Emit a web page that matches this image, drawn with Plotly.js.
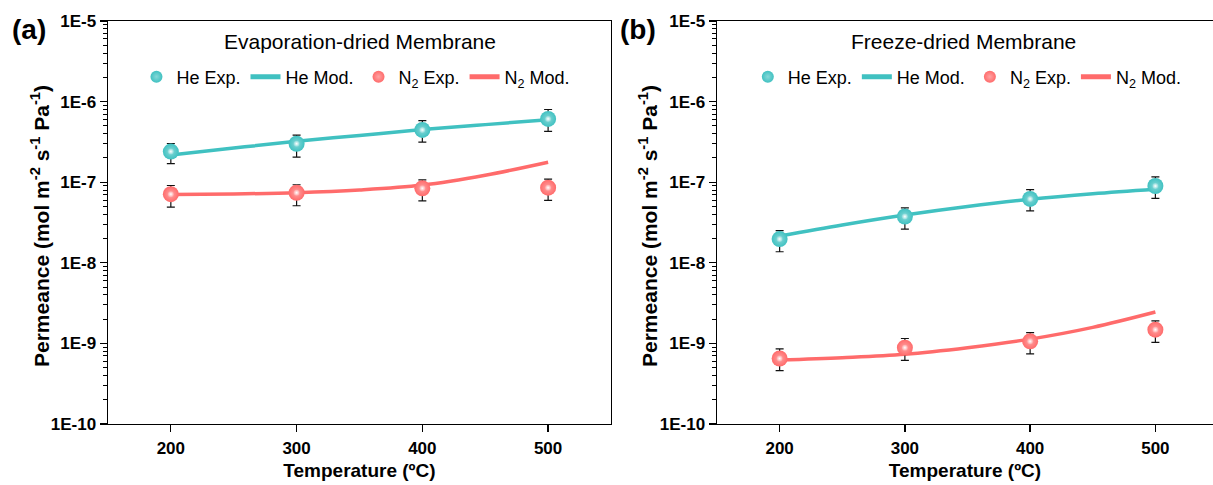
<!DOCTYPE html>
<html>
<head>
<meta charset="utf-8">
<script src="https://cdn.plot.ly/plotly-3.0.1.min.js"></script>
<style>html,body{margin:0;padding:0;background:#fff;}#chart{width:1213px;height:485px;}</style>
</head>
<body>
<div id="chart"></div>
<script>
// ---- data ----
const tempExp = [200, 300, 400, 500];
const tempMod = [200, 250, 300, 350, 400, 450, 500];

// (a) Evaporation-dried membrane
const heExpA      = [2.4e-7, 3.0e-7, 4.45e-7, 6.1e-7];
const heExpAPlus  = [0.62e-7, 0.84e-7, 1.35e-7, 1.88e-7];
const heExpAMinus = [0.7e-7, 0.95e-7, 1.31e-7, 1.82e-7];
const heModA      = [2.17e-7, 2.65e-7, 3.22e-7, 3.8e-7, 4.5e-7, 5.18e-7, 5.95e-7];
const n2ExpA      = [7.1e-8, 7.4e-8, 8.4e-8, 8.55e-8];
const n2ExpAPlus  = [2.0e-8, 1.9e-8, 2.3e-8, 2.35e-8];
const n2ExpAMinus = [2.2e-8, 2.3e-8, 2.55e-8, 2.6e-8];
const n2ModA      = [7.05e-8, 7.15e-8, 7.4e-8, 8.0e-8, 9.2e-8, 1.22e-7, 1.77e-7];

// (b) Freeze-dried membrane
const heExpB      = [1.97e-8, 3.75e-8, 6.2e-8, 8.97e-8];
const heExpBPlus  = [0.53e-8, 1.05e-8, 1.87e-8, 2.7e-8];
const heExpBMinus = [0.6e-8, 1.13e-8, 1.79e-8, 2.67e-8];
const heModB      = [2.15e-8, 2.95e-8, 3.92e-8, 5.0e-8, 6.14e-8, 7.2e-8, 8.2e-8];
const n2ExpB      = [6.5e-10, 8.85e-10, 1.06e-9, 1.48e-9];
const n2ExpBPlus  = [2.05e-10, 2.65e-10, 3.0e-10, 4.2e-10];
const n2ExpBMinus = [1.9e-10, 2.69e-10, 3.19e-10, 4.5e-10];
const n2ModB      = [6.22e-10, 6.65e-10, 7.33e-10, 8.85e-10, 1.13e-9, 1.58e-9, 2.45e-9];

const xTicks = [200, 300, 400, 500];
const yTickVals = [1e-10, 1e-9, 1e-8, 1e-7, 1e-6, 1e-5];
const yTickText = ['1E-10', '1E-9', '1E-8', '1E-7', '1E-6', '1E-5'];

const legendNames = ['He Exp.', 'He Mod.', 'N<sub>2</sub> Exp.', 'N<sub>2</sub> Mod.'];
const panelTitles = ['Evaporation-dried Membrane', 'Freeze-dried Membrane'];
const panelLabels = ['(a)', '(b)'];

// ---- styling ----
const TEAL = '#40C1C1';
const TEAL_LIGHT = '#86D8D8';
const RED = '#FF6B6B';
const RED_LIGHT = '#FFA3A3';
const FONT = 'Liberation Sans, Arial, Helvetica, sans-serif';

const minorVals = [];
for (let e = -10; e < -5; e++) for (let m = 2; m <= 9; m++) minorVals.push(m * Math.pow(10, e));

function modTrace(y, color, name, xa, ya, leg) {
  return {x: tempMod, y: y, type: 'scatter', mode: 'lines', name: name,
    line: {color: color, width: 3.5, shape: 'spline'}, xaxis: xa, yaxis: ya, legend: leg};
}
function expTrace(y, plus, minus, color, light, name, xa, ya, leg) {
  return {x: tempExp, y: y, type: 'scatter', mode: 'markers', name: name,
    marker: {color: color, size: 16, line: {width: 0}, gradient: {type: 'radial', color: light}},
    error_y: {type: 'data', symmetric: false, array: plus, arrayminus: minus,
      color: '#111', thickness: 1.2, width: 4},
    xaxis: xa, yaxis: ya, legend: leg};
}
function shineTrace(y, light, xa, ya) {
  return {x: tempExp, y: y, type: 'scatter', mode: 'markers', showlegend: false, hoverinfo: 'skip',
    marker: {color: light, size: 6, line: {width: 0}, gradient: {type: 'radial', color: '#ffffff'}},
    xaxis: xa, yaxis: ya};
}

const data = [
  expTrace(heExpA, heExpAPlus, heExpAMinus, TEAL, TEAL_LIGHT, legendNames[0], 'x', 'y', 'legend'),
  modTrace(heModA, TEAL, legendNames[1], 'x', 'y', 'legend'),
  expTrace(n2ExpA, n2ExpAPlus, n2ExpAMinus, RED, RED_LIGHT, legendNames[2], 'x', 'y', 'legend'),
  modTrace(n2ModA, RED, legendNames[3], 'x', 'y', 'legend'),
  expTrace(heExpB, heExpBPlus, heExpBMinus, TEAL, TEAL_LIGHT, legendNames[0], 'x2', 'y2', 'legend2'),
  modTrace(heModB, TEAL, legendNames[1], 'x2', 'y2', 'legend2'),
  expTrace(n2ExpB, n2ExpBPlus, n2ExpBMinus, RED, RED_LIGHT, legendNames[2], 'x2', 'y2', 'legend2'),
  modTrace(n2ModB, RED, legendNames[3], 'x2', 'y2', 'legend2'),
];
data.forEach((t, i) => { t.legendrank = (i % 4) + 1; });
const ordered = [data[1], data[3], data[0], data[2], data[5], data[7], data[4], data[6]];
ordered.push(shineTrace(heExpA, TEAL_LIGHT, 'x', 'y'), shineTrace(n2ExpA, RED_LIGHT, 'x', 'y'),
             shineTrace(heExpB, TEAL_LIGHT, 'x2', 'y2'), shineTrace(n2ExpB, RED_LIGHT, 'x2', 'y2'));

function xAxis(domain, range, anchor) {
  return {domain: domain, range: range, anchor: anchor, tickmode: 'array', tickvals: xTicks,
    ticks: 'outside', ticklen: 7, tickwidth: 1.3, tickcolor: '#000', ticklabelstandoff: 1,
    showline: true, linecolor: '#000', linewidth: 1.4, mirror: true, showgrid: false, zeroline: false,
    tickfont: {family: FONT, size: 17, color: '#000', weight: 'bold'},
    title: {text: 'Temperature (ºC)', font: {family: FONT, size: 19, color: '#000', weight: 'bold'}, standoff: 7}};
}
function yAxis(anchor) {
  return {type: 'log', domain: [0.1258, 0.9567], range: [-10, -5], anchor: anchor,
    tickmode: 'array', tickvals: yTickVals, ticktext: yTickText,
    ticks: 'outside', ticklen: 7, tickwidth: 1.3, tickcolor: '#000',
    minor: {tickmode: 'array', tickvals: minorVals, ticks: 'outside', ticklen: 4, tickwidth: 1, tickcolor: '#000', showgrid: false},
    showline: true, linecolor: '#000', linewidth: 1.4, mirror: true, showgrid: false, zeroline: false,
    tickfont: {family: FONT, size: 17, color: '#000', weight: 'bold'}};
}

const ytitle = 'Permeance (mol m<sup>-2</sup> s<sup>-1</sup> Pa<sup>-1</sup>)';
const legendBase = {orientation: 'h', xanchor: 'left', yanchor: 'middle', bgcolor: 'rgba(0,0,0,0)',
  font: {family: FONT, size: 18, color: '#000'}, itemwidth: 30, itemsizing: 'constant',
  tracegroupgap: 0, traceorder: 'normal'};

const layout = {
  width: 1213, height: 485,
  margin: {l: 0, r: 0, t: 0, b: 0},
  paper_bgcolor: '#fff', plot_bgcolor: '#fff',
  showlegend: true,
  xaxis: xAxis([0.0890, 0.5037], [150, 550], 'y'),
  yaxis: yAxis('x'),
  xaxis2: xAxis([0.5911, 1.0], [150, 546], 'y2'),
  yaxis2: yAxis('x2'),
  legend: Object.assign({}, legendBase, {x: 0.1125, y: 1 - 77 / 485}),
  legend2: Object.assign({}, legendBase, {x: 0.6165, y: 1 - 77 / 485}),
  annotations: [
    {text: ytitle, textangle: -90, x: 40 / 1213, y: 1 - 226 / 485, xref: 'paper', yref: 'paper', showarrow: false,
      xanchor: 'center', yanchor: 'middle', font: {family: FONT, size: 21, color: '#000', weight: 'bold'}},
    {text: ytitle, textangle: -90, x: 648 / 1213, y: 1 - 226 / 485, xref: 'paper', yref: 'paper', showarrow: false,
      xanchor: 'center', yanchor: 'middle', font: {family: FONT, size: 21, color: '#000', weight: 'bold'}},
    {text: panelTitles[0], x: 360 / 1213, y: 1 - 41 / 485, xref: 'paper', yref: 'paper', showarrow: false,
      xanchor: 'center', yanchor: 'middle', font: {family: FONT, size: 21, color: '#000'}},
    {text: panelTitles[1], x: 963 / 1213, y: 1 - 41 / 485, xref: 'paper', yref: 'paper', showarrow: false,
      xanchor: 'center', yanchor: 'middle', font: {family: FONT, size: 21, color: '#000'}},
    {text: panelLabels[0], x: 29 / 1213, y: 1 - 29 / 485, xref: 'paper', yref: 'paper', showarrow: false,
      xanchor: 'center', yanchor: 'middle', font: {family: FONT, size: 28, color: '#000', weight: 'bold'}},
    {text: panelLabels[1], x: 638 / 1213, y: 1 - 29 / 485, xref: 'paper', yref: 'paper', showarrow: false,
      xanchor: 'center', yanchor: 'middle', font: {family: FONT, size: 28, color: '#000', weight: 'bold'}}
  ]
};

Plotly.newPlot('chart', ordered, layout, {displayModeBar: false, staticPlot: true});
</script>
</body>
</html>
